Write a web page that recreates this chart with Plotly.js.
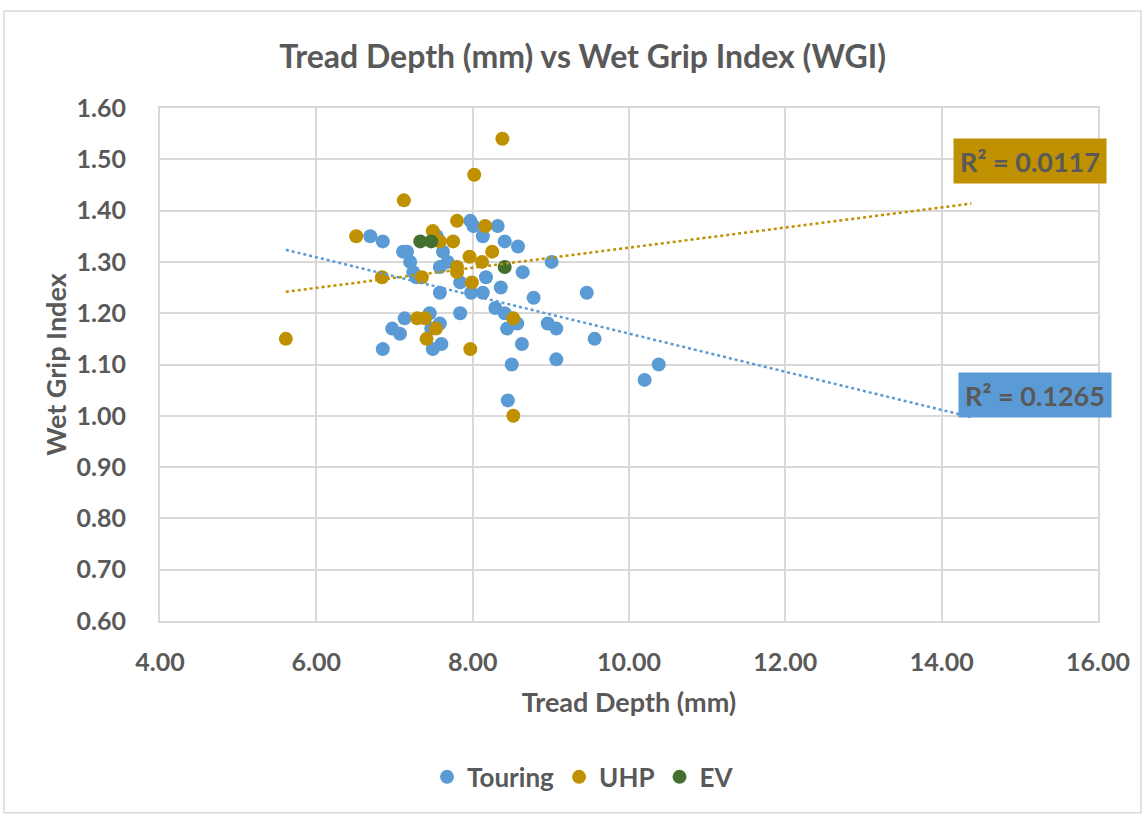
<!DOCTYPE html>
<html>
<head>
<meta charset="utf-8">
<script src="https://cdn.plot.ly/plotly-3.0.1.min.js"></script>
<style>html,body{margin:0;padding:0;background:#fff;}#chart{width:1147px;height:817px;}</style>
</head>
<body>
<div id="chart"></div>
<script>
// Touring
const touringX = [6.69,6.85,7.11,7.16,7.20,7.24,7.28,7.54,7.62,7.58,7.68,7.58,7.84,7.98,7.97,8.01,8.13,8.32,8.41,8.58,8.64,9.01,8.17,8.13,8.36,8.78,9.46,8.29,6.85,6.97,7.07,7.13,7.45,7.47,7.58,7.49,7.60,7.84,8.41,8.44,8.57,8.96,9.07,9.56,8.63,8.50,9.07,8.45,10.20,10.38];
const touringY = [1.35,1.34,1.32,1.32,1.30,1.28,1.27,1.35,1.32,1.29,1.30,1.24,1.26,1.24,1.38,1.37,1.35,1.37,1.34,1.33,1.28,1.30,1.27,1.24,1.25,1.23,1.24,1.21,1.13,1.17,1.16,1.19,1.20,1.17,1.18,1.13,1.14,1.20,1.20,1.17,1.18,1.18,1.17,1.15,1.14,1.10,1.11,1.03,1.07,1.10];
// UHP
const uhpX = [5.61,6.51,6.84,7.12,7.35,7.49,7.58,7.75,7.80,7.80,7.80,7.96,7.99,8.02,8.38,8.16,8.25,8.12,7.29,7.39,7.53,7.41,7.97,8.52,8.52];
const uhpY = [1.15,1.35,1.27,1.42,1.27,1.36,1.34,1.34,1.38,1.29,1.28,1.31,1.26,1.47,1.54,1.37,1.32,1.30,1.19,1.19,1.17,1.15,1.13,1.19,1.00];
// EV
const evX = [7.33,7.47,8.41];
const evY = [1.34,1.34,1.29];

const seriesNames = ["Touring","UHP","EV"];
const r2Labels = ["R² = 0.1265","R² = 0.0117"];
const xTicks = [4,6,8,10,12,14,16];
const yTicks = [0.6,0.7,0.8,0.9,1.0,1.1,1.2,1.3,1.4,1.5,1.6];
const forwardForecast = 4;

const blue = "#5B9BD5", gold = "#BF9000", green = "#44702F", txt = "#595959", grid = "#D9D9D9";
const FONT = "Lato, 'Open Sans', sans-serif";

function fit(xs, ys){
  const n = xs.length;
  const mx = xs.reduce((a,b)=>a+b,0)/n, my = ys.reduce((a,b)=>a+b,0)/n;
  let sxy=0, sxx=0;
  for(let i=0;i<n;i++){ sxy += (xs[i]-mx)*(ys[i]-my); sxx += (xs[i]-mx)*(xs[i]-mx); }
  const m = sxy/sxx; return {m:m, b:my-m*mx};
}
const allX = touringX.concat(uhpX, evX);
const x0 = Math.min(...allX), x1 = Math.max(...allX) + forwardForecast;
const ft = fit(touringX, touringY), fu = fit(uhpX, uhpY);

const mk = (c)=>({color:c, size:14, line:{width:0}});
const data = [
  {type:"scatter", mode:"markers", name:seriesNames[0], x:touringX, y:touringY, marker:mk(blue)},
  {type:"scatter", mode:"markers", name:seriesNames[1], x:uhpX, y:uhpY, marker:mk(gold)},
  {type:"scatter", mode:"markers", name:seriesNames[2], x:evX, y:evY, marker:mk(green)},
  {type:"scatter", mode:"lines", showlegend:false, hoverinfo:"skip", x:[x0,x1], y:[ft.m*x0+ft.b, ft.m*x1+ft.b], line:{color:blue, width:2.5, dash:"dot"}},
  {type:"scatter", mode:"lines", showlegend:false, hoverinfo:"skip", x:[x0,x1], y:[fu.m*x0+fu.b, fu.m*x1+fu.b], line:{color:gold, width:2.5, dash:"dot"}}
];

const layout = {
  width:1147, height:817,
  margin:{l:160, r:49, t:108, b:196},
  paper_bgcolor:"#fff", plot_bgcolor:"#fff",
  font:{family:FONT, color:txt},
  title:{text:"<b>Tread Depth (mm) vs Wet Grip Index (WGI)</b>", font:{size:32, color:txt, family:FONT}, x:0.508, xanchor:"center", y:0.930, yanchor:"middle", yref:"container"},
  xaxis:{range:[4,16], tickvals:xTicks, ticktext:xTicks.map(v=>v.toFixed(2)), showgrid:true, gridcolor:grid, gridwidth:2, zeroline:false,
         showline:true, linecolor:grid, linewidth:2, mirror:true, ticks:"", ticklabelstandoff:18,
         tickfont:{size:25, color:txt, family:FONT, weight:"bold"},
         title:{text:"<b>Tread Depth (mm)</b>", font:{size:27, color:txt, family:FONT}, standoff:18}},
  yaxis:{range:[0.6,1.6], tickvals:yTicks, ticktext:yTicks.map(v=>v.toFixed(2)), showgrid:true, gridcolor:grid, gridwidth:2, zeroline:false,
         showline:true, linecolor:grid, linewidth:2, mirror:true, ticks:"", ticklabelstandoff:27,
         tickfont:{size:25, color:txt, family:FONT, weight:"bold"},
         title:{text:"<b>Wet Grip Index</b>", font:{size:27, color:txt, family:FONT}, standoff:2}},
  legend:{orientation:"h", x:0.451, xanchor:"center", y:-0.304, yanchor:"middle", font:{size:26, color:txt, family:FONT, weight:"bold"}, itemwidth:30, traceorder:"normal"},
  showlegend:true,
  annotations:[
    {xref:"x", yref:"y", x:15.19, y:1.041, text:"<b>"+r2Labels[0]+"</b>", showarrow:false, bgcolor:blue, width:144, height:36, borderpad:4, font:{size:27, color:txt, family:FONT}},
    {xref:"x", yref:"y", x:15.13, y:1.497, text:"<b>"+r2Labels[1]+"</b>", showarrow:false, bgcolor:gold, width:144, height:36, borderpad:4, font:{size:27, color:txt, family:FONT}}
  ],
  shapes:[
    {type:"rect", xref:"paper", yref:"paper", x0:-0.1663, x1:1.0458, y0:-0.374, y1:1.189, line:{color:grid, width:1.5}, layer:"below"}
  ]
};
Plotly.newPlot("chart", data, layout, {displayModeBar:false, staticPlot:true});
</script>
</body>
</html>
